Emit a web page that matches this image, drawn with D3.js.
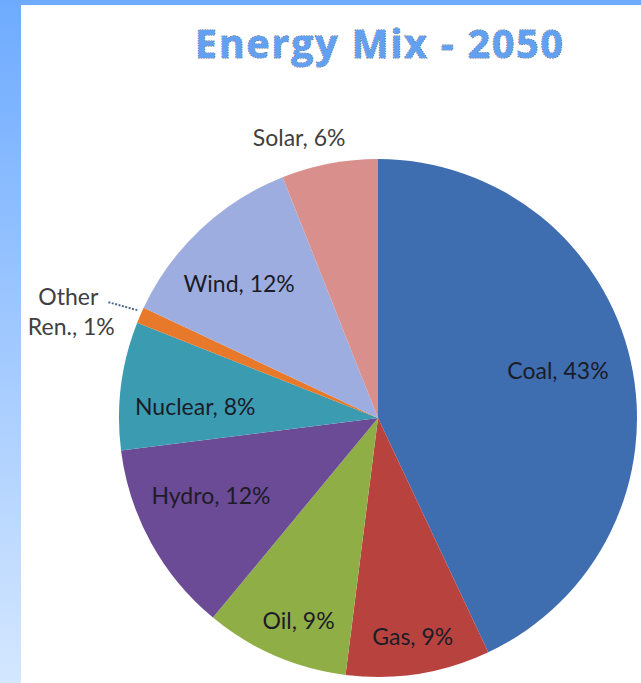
<!DOCTYPE html>
<html>
<head>
<meta charset="utf-8">
<script src="https://cdn.jsdelivr.net/npm/d3@7"></script>
<style>
  html, body { margin: 0; padding: 0; background: #ffffff; }
  svg { display: block; }
</style>
</head>
<body>
<svg id="chart" width="641" height="683"></svg>
<script>
// Energy mix shares (percent), clockwise from 12 o'clock
const categories = ["Coal", "Gas", "Oil", "Hydro", "Nuclear", "Other Ren.", "Wind", "Solar"];
const shares = [43, 9, 9, 12, 8, 1, 12, 6];
const sliceColors = ["#3e6db0", "#b8423e", "#8fae45", "#6b4a96", "#3b9bb1", "#e8782a", "#9eaddf", "#d9908c"];
const titleText = "Energy Mix - 2050";

const W = 641, H = 683;
const svg = d3.select("#chart");

// frame: blue band along the top and a fading blue strip down the left side
const defs = svg.append("defs");
const grad = defs.append("linearGradient")
  .attr("id", "sideFade").attr("x1", 0).attr("y1", 0).attr("x2", 0).attr("y2", 1);
grad.append("stop").attr("offset", "0%").attr("stop-color", "#6eabff");
grad.append("stop").attr("offset", "100%").attr("stop-color", "#d4e7ff");

svg.append("rect").attr("x", 0).attr("y", 0).attr("width", W).attr("height", H).attr("fill", "#ffffff");
svg.append("rect").attr("x", 0).attr("y", 0).attr("width", 21).attr("height", H).attr("fill", "url(#sideFade)");
svg.append("rect").attr("x", 0).attr("y", 0).attr("width", W).attr("height", 5).attr("fill", "#6eabff");

// title
svg.append("text")
  .attr("x", 380).attr("y", 58)
  .attr("text-anchor", "middle")
  .attr("font-family", "'Open Sans', Lato, sans-serif")
  .attr("font-weight", "bold")
  .attr("font-size", 39)
  .attr("letter-spacing", 2)
  .attr("fill", "#62a0f2")
  .attr("stroke", "#4a5a70")
  .attr("stroke-width", 1.1)
  .attr("stroke-dasharray", "1.5 1")
  .attr("paint-order", "stroke")
  .text(titleText);

// pie
const cx = 378, cy = 418, R = 259;
const data = categories.map((c, i) => ({ name: c, value: shares[i], color: sliceColors[i] }));

const pie = d3.pie().value(d => d.value).sort(null);
const arcs = pie(data);
const arc = d3.arc().innerRadius(0).outerRadius(R);

const g = svg.append("g").attr("transform", `translate(${cx},${cy})`);

g.selectAll("path.slice")
  .data(arcs)
  .join("path")
  .attr("class", "slice")
  .attr("d", arc)
  .attr("fill", d => d.data.color);

const labelFont = "Lato, 'Open Sans', sans-serif";
const labelSize = 23;
const fmt = d => `${d.data.name}, ${d.data.value}%`;
const deg = Math.PI / 180;

// inside labels: [radius as fraction of R, angular nudge in degrees from the slice's mid angle]
const insidePlace = {
  "Coal": [0.718, -2], "Gas": [0.857, 0], "Oil": [0.84, -2],
  "Hydro": [0.711, 3.9], "Nuclear": [0.707, -3.8], "Wind": [0.745, -2.8]
};
const inside = arcs.filter(d => insidePlace[d.data.name] !== undefined);

g.selectAll("text.inside")
  .data(inside)
  .join("text")
  .attr("class", "inside")
  .attr("transform", d => {
    const [f, da] = insidePlace[d.data.name];
    const a = (d.startAngle + d.endAngle) / 2 + da * deg;
    const r = R * f;
    return `translate(${r * Math.sin(a)},${-r * Math.cos(a)})`;
  })
  .attr("text-anchor", "middle")
  .attr("dy", "0.35em")
  .attr("font-family", labelFont)
  .attr("font-size", labelSize)
  .attr("fill", "#1c1c28")
  .text(fmt);

// outside label for Solar, above the slice
const solar = arcs.find(d => d.data.name === "Solar");
{
  const a = (solar.startAngle + solar.endAngle) / 2;
  const r = R + 18;
  g.append("text")
    .attr("x", r * Math.sin(a) - 27)
    .attr("y", -r * Math.cos(a))
    .attr("text-anchor", "middle")
    .attr("font-family", labelFont)
    .attr("font-size", labelSize)
    .attr("fill", "#404040")
    .text(fmt(solar));
}

// outside label for Other Ren. with a leader line
const other = arcs.find(d => d.data.name === "Other Ren.");
{
  const a = (other.startAngle + other.endAngle) / 2;
  const edge = [R * Math.sin(a), -R * Math.cos(a)];
  g.append("path")
    .attr("d", d3.line()([[edge[0] - 3, edge[1] - 5], [edge[0] - 32, edge[1] - 13]]))
    .attr("fill", "none")
    .attr("stroke", "#4f6b8f")
    .attr("stroke-width", 2)
    .attr("stroke-dasharray", "2 1.5");
  const t = g.append("text")
    .attr("text-anchor", "middle")
    .attr("font-family", labelFont)
    .attr("font-size", labelSize)
    .attr("fill", "#404040");
  t.append("tspan").attr("x", edge[0] - 72).attr("y", edge[1] - 10).text("Other");
  t.append("tspan").attr("x", edge[0] - 69).attr("y", edge[1] + 20).text(`Ren., ${other.data.value}%`);
}
</script>
</body>
</html>
